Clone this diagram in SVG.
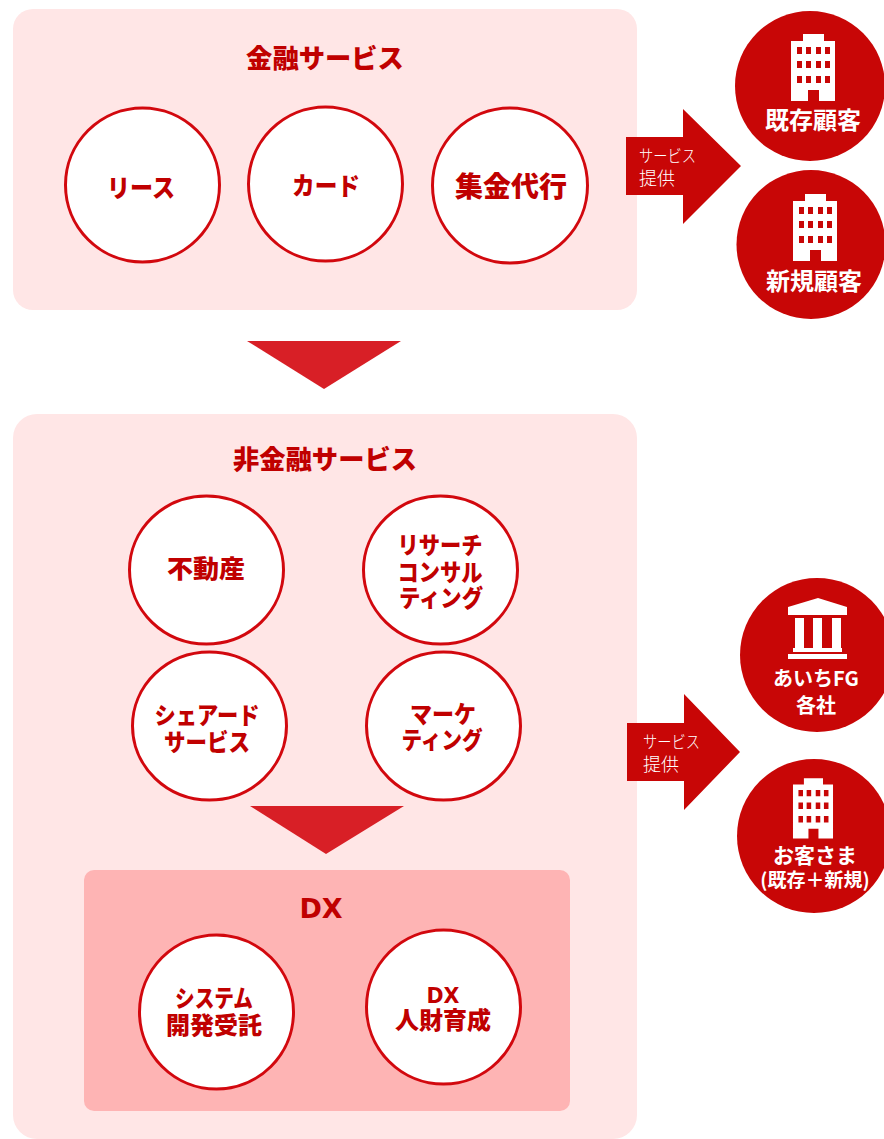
<svg xmlns="http://www.w3.org/2000/svg" width="884" height="1139" viewBox="0 0 884 1139">
<style>
text{font-family:"Noto Sans CJK JP","Noto Sans",sans-serif;text-anchor:middle}
.c{fill:#fff;stroke:#d2080e;stroke-width:3}
.l{fill:#c00000;font-weight:900;font-size:25px}
.k{fill:#c00000;font-weight:900;font-size:24px}
.m{fill:#c00000;font-weight:900;font-size:24px}
.t{fill:#c00000;font-weight:900;font-size:26.300px}
.w{fill:#fff;font-weight:700;font-size:24px}
.s{fill:#fff;font-size:17px;text-anchor:start;font-weight:300}
.r{fill:#c80606}
.d{fill:#d81f26}
.dx{font-family:"DejaVu Sans",sans-serif;font-weight:700}
</style>
<defs>
<g id="bld"><path fill="#fff" fill-rule="evenodd" d="M-22 34V-26H-10V-33H11V-26H22V34H6V23H-5V34ZM-16-20V-13H-11V-20ZM-7-20V-13H-2V-20ZM3-20V-13H8V-20ZM12-20V-13H17V-20ZM-16-6V1H-11V-6ZM-7-6V1H-2V-6ZM3-6V1H8V-6ZM12-6V1H17V-6ZM-16 9V16H-11V9ZM-7 9V16H-2V9ZM3 9V16H8V9ZM12 9V16H17V9Z"/></g>
</defs>
<rect width="884" height="1139" fill="#fff"/>
<g id="panel-finance"><rect x="13" y="9" width="624" height="301" rx="20" fill="#ffe6e6"/><text class="t" x="325" y="68">金融サービス</text></g>
<g id="panel-nonfinance"><rect x="13" y="414" width="624" height="725" rx="24" fill="#ffe6e6"/><text class="t" x="325" y="469">非金融サービス</text></g>
<g id="panel-dx"><rect x="84" y="870" width="486" height="241" rx="10" fill="#feb4b4"/><text class="t dx" x="321" y="918" style="font-size:27px">DX</text></g>
<g id="connectors">
<path class="d" d="M247 341H401L324 389Z"/>
<path class="d" d="M250 806H404L326 854Z"/>
<path class="r" d="M626 137H683V109L741 166L683 224V195H626Z"/>
<path class="r" d="M627 723H684V694L740 752L684 810V781H627Z"/>
<text class="s" x="639" y="162" textLength="57" lengthAdjust="spacingAndGlyphs">サービス</text><text class="s" x="639" y="185" style="font-size:18px">提供</text>
<text class="s" x="643" y="748" textLength="57" lengthAdjust="spacingAndGlyphs">サービス</text><text class="s" x="643" y="771" style="font-size:18px">提供</text>
</g>
<g id="n-lease"><circle class="c" cx="142.500" cy="185" r="77"/><text class="l" x="141" y="197" textLength="68" lengthAdjust="spacingAndGlyphs">リース</text></g>
<g id="n-card"><circle class="c" cx="325.500" cy="184" r="77"/><text class="l" x="326" y="195" textLength="68" lengthAdjust="spacingAndGlyphs">カード</text></g>
<g id="n-collect"><circle class="c" cx="510" cy="185.500" r="77.500"/><text class="l" x="511" y="197" style="font-size:28px">集金代行</text></g>
<g id="n-estate"><ellipse class="c" cx="206.500" cy="570" rx="77" ry="74"/><text class="m" x="206" y="578" style="font-size:25px" textLength="78" lengthAdjust="spacingAndGlyphs">不動産</text></g>
<g id="n-research"><ellipse class="c" cx="440.500" cy="570" rx="77" ry="74"/><text class="k" x="440" y="554" textLength="85" lengthAdjust="spacingAndGlyphs">リサーチ</text><text class="k" x="440" y="581" textLength="85" lengthAdjust="spacingAndGlyphs">コンサル</text><text class="k" x="441" y="607" textLength="84" lengthAdjust="spacingAndGlyphs">ティング</text></g>
<g id="n-shared"><ellipse class="c" cx="209.500" cy="726" rx="77" ry="74"/><text class="k" x="207" y="724" textLength="105" lengthAdjust="spacingAndGlyphs">シェアード</text><text class="k" x="207" y="751" textLength="86" lengthAdjust="spacingAndGlyphs">サービス</text></g>
<g id="n-marketing"><ellipse class="c" cx="443.500" cy="726" rx="77" ry="74"/><text class="k" x="443" y="723" textLength="66" lengthAdjust="spacingAndGlyphs">マーケ</text><text class="k" x="442" y="749" textLength="81" lengthAdjust="spacingAndGlyphs">ティング</text></g>
<g id="n-system"><circle class="c" cx="216.500" cy="1012" r="77"/><text class="k" x="214" y="1007" textLength="78" lengthAdjust="spacingAndGlyphs">システム</text><text class="m" x="214" y="1034">開発受託</text></g>
<g id="n-hr"><circle class="c" cx="443.500" cy="1007" r="77"/><text class="m dx" x="443" y="1003" style="font-size:20.600px">DX</text><text class="m" x="443" y="1029">人財育成</text></g>
<g id="n-existing"><circle class="r" cx="810" cy="86" r="75"/><use href="#bld" x="813" y="67"/><text class="w" x="813" y="129">既存顧客</text></g>
<g id="n-new"><circle class="r" cx="811" cy="244.500" r="74.500"/><use href="#bld" x="815" y="227"/><text class="w" x="814" y="290">新規顧客</text></g>
<g id="n-fg"><circle class="r" cx="817" cy="655" r="77"/><g fill="#fff"><path d="M818 598L847 607V615H788V607Z"/><rect x="795" y="618" width="9" height="30"/><rect x="813" y="618" width="9" height="30"/><rect x="832" y="618" width="9" height="30"/><rect x="793" y="648" width="49" height="4"/><rect x="788" y="654" width="59" height="5"/></g><text class="w" x="816" y="686" style="font-size:20px">あいちFG</text><text class="w" x="816" y="713" style="font-size:20px">各社</text></g>
<g id="n-customer"><circle class="r" cx="814" cy="836" r="77"/><use href="#bld" transform="translate(813 808) scale(.91 .9)"/><text class="w" x="815" y="863" style="font-size:21px">お客さま</text><text class="w" x="815" y="887" style="font-size:19px">(既存＋新規)</text></g>
</svg>
